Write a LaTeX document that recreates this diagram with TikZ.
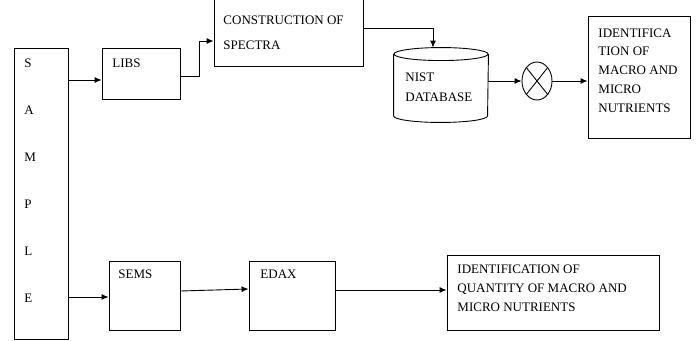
\documentclass[tikz,border=0pt]{standalone}
\usepackage{fontspec}
\setmainfont{Liberation Serif}
\usetikzlibrary{arrows.meta,shapes.geometric}
\begin{document}
\begin{tikzpicture}[x=1pt,y=-1pt,line width=0.9pt,
    box/.style={draw,rectangle,inner sep=0pt},
    txt/.style={anchor=base west,inner sep=0pt,font=\fontsize{13}{15}\selectfont},
    arr/.style={-{Latex[length=7pt,width=6pt]}}]
            \clip (0,0) rectangle (696,340);

            % sample column
            \node[box,minimum width=54,minimum height=291] (sample) at (41,193.5) {};
            \foreach \ch [count=\i] in {S,A,M,P,L,E}
                \node[txt] (s\i) at (24,{67.5+47*(\i-1)}) {\ch};

            % upper branch
            \node[box,minimum width=78,minimum height=51] (libs) at (141,73.5) {};
            \node[txt] (libst) at (112,67.5) {LIBS};
            \node[box,minimum width=149,minimum height=71] (constr) at (288.5,30.5) {};
            \node[txt] (constra) at (223,24.5) {CONSTRUCTION OF};
            \node[txt] (constrb) at (223,49.5) {SPECTRA};
            % database drum
            \node[inner sep=0pt,minimum width=94,minimum height=74] (nist) at (441,85) {};
            \draw ([yshift=-6.5pt]nist.north) ellipse [x radius=47pt,y radius=6.5pt];
            \draw ([yshift=-6.5pt]nist.north west) -- ([yshift=6.5pt]nist.south west)
                  arc [start angle=180,end angle=360,x radius=47pt,y radius=6.5pt]
                  -- ([yshift=-6.5pt]nist.north east);
            \node[txt] (nista) at (405,81.5) {NIST};
            \node[txt] (nistb) at (405,101.5) {DATABASE};
            \node[draw,ellipse,inner sep=0pt,minimum width=30,minimum height=38] (mix) at (537,81) {};
            \draw (mix.north west) -- (mix.south east) (mix.north east) -- (mix.south west);
            \node[box,minimum width=102,minimum height=122] (ident) at (639,77) {};
            \foreach \t [count=\i] in {IDENTIFICA,TION OF,MACRO AND,MICRO,NUTRIENTS}
                \node[txt] (id\i) at (598,{37+18.8*(\i-1)}) {\t};

            % lower branch
            \node[box,minimum width=71,minimum height=69] (sems) at (144.5,295.5) {};
            \node[txt] (semst) at (118,278.5) {SEMS};
            \node[box,minimum width=86,minimum height=69] (edax) at (292,295.5) {};
            \node[txt] (edaxt) at (260,278.5) {EDAX};
            \node[box,minimum width=212,minimum height=75] (quant) at (553,292.5) {};
            \foreach \t [count=\i] in {IDENTIFICATION OF,QUANTITY OF MACRO AND,MICRO NUTRIENTS}
                \node[txt] (q\i) at (457,{273.5+19*(\i-1)}) {\t};

            % connectors
            \draw[arr] (sample.east |- 0,80) -- (libs.west |- 0,80);
            \draw[arr] (libs.east |- 0,76) -- ++(19,0) |- (constr.west |- 0,41);
            \draw[arr] (constr.east |- 0,28) -| ([xshift=-8]nist.north);
            \draw[arr] (nist.east |- mix.west) -- (mix.west);
            \draw[arr] (mix.east) -- (ident.west |- mix.east);
            \draw[arr] (sample.east |- 0,297) -- (sems.west |- 0,297);
            \draw[arr] (sems.east |- 0,291) -- (edax.west |- 0,289);
            \draw[arr] (edax.east |- 0,290) -- (quant.west |- 0,290);
        \end{tikzpicture}
\end{document}
